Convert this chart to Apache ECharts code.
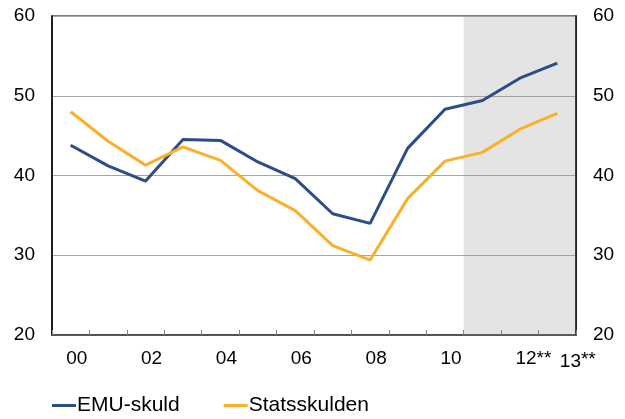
<!DOCTYPE html>
<html>
<head>
<meta charset="utf-8">
<script src="https://cdn.jsdelivr.net/npm/echarts@6/dist/echarts.min.js"></script>
<style>
  html, body { margin: 0; padding: 0; background: #fff; }
  #chart { width: 625px; height: 419px; }
</style>
</head>
<body>
<div id="chart"></div>
<script>
// years 2000-2013, 12 and 13 are forecasts
const years = ["00", "01", "02", "03", "04", "05", "06", "07", "08", "09", "10", "11", "12", "13"];
const tickLabels = ["00", "", "02", "", "04", "", "06", "", "08", "", "10", "", "12**", "13**"];
const emuSkuld = [43.8, 41.2, 39.3, 44.5, 44.4, 41.7, 39.6, 35.2, 34.0, 43.4, 48.3, 49.4, 52.2, 54.1];
const statsskulden = [48.0, 44.3, 41.3, 43.6, 41.9, 38.1, 35.6, 31.2, 29.4, 37.1, 41.8, 42.9, 45.8, 47.8];
const forecastStart = 11; // shaded from 11 to end

const font = "Liberation Sans, Arial, sans-serif";

const chart = echarts.init(document.getElementById("chart"));

chart.setOption({
  animation: false,
  grid: {
    left: 52, right: 49, top: 16, bottom: 84,
    show: true, borderColor: "#505050", borderWidth: 1.5
  },
  legend: {
    left: 52, top: 395, padding: 0,
    itemWidth: 24, itemHeight: 3, itemGap: 44,
    icon: "rect",
    textStyle: { fontFamily: font, fontSize: 21, color: "#000", padding: [0, 0, 0, -4] },
    data: ["EMU-skuld", "Statsskulden"]
  },
  xAxis: [
    {
      type: "category",
      data: years,
      boundaryGap: true,
      axisLine: { lineStyle: { color: "#404040", width: 1.5 } },
      axisTick: { show: true, inside: true, length: 5, interval: 0, lineStyle: { color: "#808080" } },
      axisLabel: {
        interval: 0,
        margin: 14,
        formatter: (v, i) => {
          const t = tickLabels[i];
          if (!t) return "";
          if (t.endsWith("**")) {
            const n = t.slice(0, -2);
            return i === years.length - 1 ? "{c|" + n + "}{s|**}" : "{b|" + n + "}{s|**}";
          }
          return "{a|" + t + "}";
        },
        rich: {
          a: { fontFamily: font, fontSize: 19, color: "#000", padding: [0, 0, 0, 12] },
          b: { fontFamily: font, fontSize: 19, color: "#000", padding: [0, 0, 0, 27] },
          c: { fontFamily: font, fontSize: 19, color: "#000", padding: [3, 0, 0, 41] },
          s: { fontFamily: font, fontSize: 19, color: "#000" }
        }
      },
      splitLine: { show: false }
    },
    {
      type: "value", min: 0, max: years.length, show: false
    }
  ],
  yAxis: [
    {
      type: "value", min: 20, max: 60, interval: 10, position: "left",
      axisLine: { show: true, lineStyle: { color: "#000", width: 1.5 } },
      axisTick: { show: false },
      axisLabel: { fontFamily: font, fontSize: 19, color: "#000", margin: 17 },
      splitLine: { lineStyle: { color: "#a6a6a6" } }
    },
    {
      type: "value", min: 20, max: 60, interval: 10, position: "right",
      axisLine: { show: true, lineStyle: { color: "#000", width: 1.5 } },
      axisTick: { show: false },
      axisLabel: { fontFamily: font, fontSize: 19, color: "#000", margin: 17 },
      splitLine: { show: false }
    }
  ],
  series: [
    {
      name: "EMU-skuld",
      type: "line",
      data: emuSkuld,
      symbol: "none",
      lineStyle: { width: 3, color: "#2c4d87" },
      itemStyle: { color: "#2c4d87" },
      z: 3
    },
    {
      name: "Statsskulden",
      type: "line",
      data: statsskulden,
      symbol: "none",
      lineStyle: { width: 3, color: "#fbb02a" },
      itemStyle: { color: "#fbb02a" },
      z: 3
    },
    {
      // forecast shading, drawn over lines
      name: "prognos",
      type: "line",
      xAxisIndex: 1,
      data: [],
      symbol: "none",
      z: 5,
      markArea: {
        silent: true,
        itemStyle: { color: "rgba(150,150,150,0.26)" },
        data: [[{ xAxis: forecastStart }, { xAxis: years.length }]]
      }
    }
  ]
});
</script>
</body>
</html>
